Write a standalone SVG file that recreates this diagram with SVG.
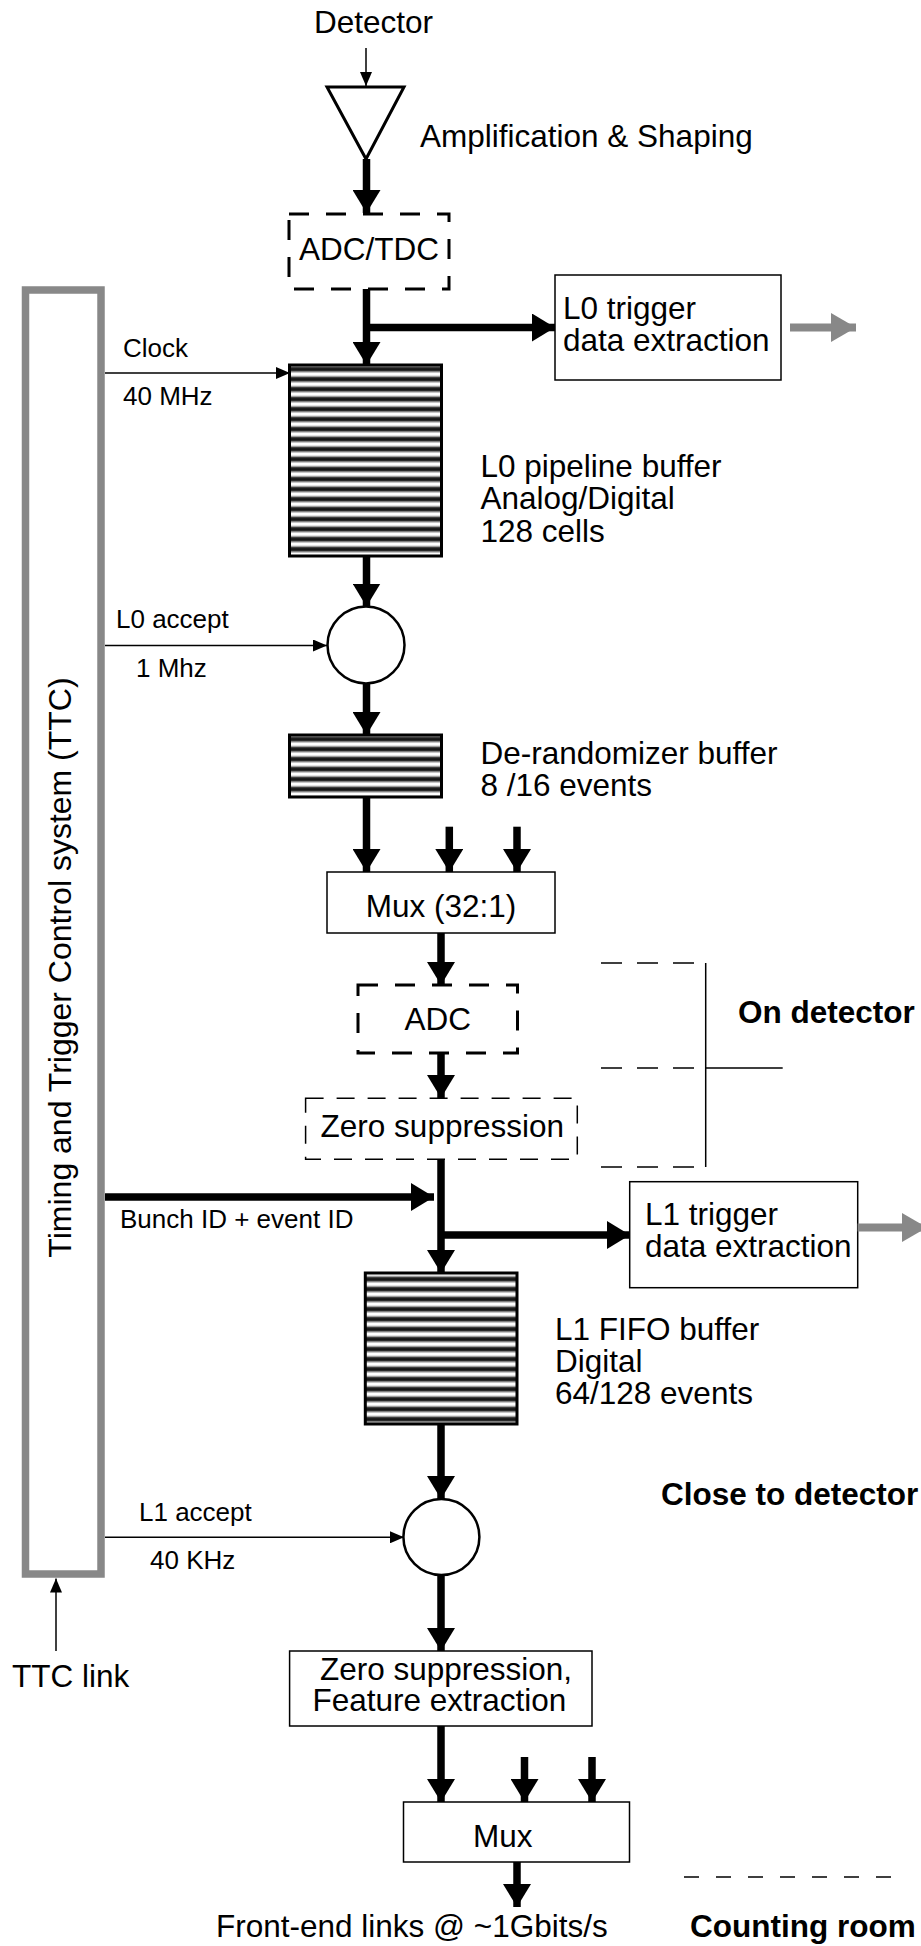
<svg xmlns="http://www.w3.org/2000/svg" width="921" height="1946" viewBox="0 0 921 1946">
<style>
text{font-family:"Liberation Sans",Arial,sans-serif;fill:#000}
.t{font-size:31.5px}
.s{font-size:26px}
.b{font-size:31.5px;font-weight:bold}
.box{fill:#fff;stroke:#000;stroke-width:1.5}
.dbox{fill:none;stroke:#000;stroke-width:3;stroke-dasharray:20 17}
.dbox2{fill:none;stroke:#000;stroke-width:1.5;stroke-dasharray:18 13}
.buf{fill:url(#stripes);stroke:#000;stroke-width:3}
.thick{fill:none;stroke:#000;stroke-width:7.5;marker-end:url(#ah)}
.thin{fill:none;stroke:#000;stroke-width:1.5;marker-end:url(#at)}
.gray{fill:none;stroke:#888;stroke-width:8;marker-end:url(#ag)}
.circ{fill:#fff;stroke:#000;stroke-width:2.5}
.dash{fill:none;stroke:#000;stroke-width:1.5;stroke-dasharray:21 15}
.sol{fill:none;stroke:#000;stroke-width:1.5}
</style>
<defs>
<linearGradient id="sg" x1="0" y1="0" x2="0" y2="1">
<stop offset="0" stop-color="#fff"/>
<stop offset="0.12" stop-color="#bbb"/>
<stop offset="0.28" stop-color="#222"/>
<stop offset="0.52" stop-color="#111"/>
<stop offset="0.68" stop-color="#999"/>
<stop offset="0.84" stop-color="#fff"/>
<stop offset="1" stop-color="#fff"/>
</linearGradient>
<pattern id="stripes" patternUnits="userSpaceOnUse" x="0" y="365" width="10" height="10">
<rect x="0" y="0" width="10" height="10" fill="url(#sg)"/>
</pattern>
<marker id="ah" markerUnits="userSpaceOnUse" viewBox="0 0 23 28" refX="23" refY="14" markerWidth="23" markerHeight="28" orient="auto">
<path d="M0,0 L23,14 L0,28 Z" fill="#000"/>
</marker>
<marker id="at" markerUnits="userSpaceOnUse" viewBox="0 0 14 12" refX="14" refY="6" markerWidth="14" markerHeight="12" orient="auto">
<path d="M0,0 L14,6 L0,12 Z" fill="#000"/>
</marker>
<marker id="ag" markerUnits="userSpaceOnUse" viewBox="0 0 25 29" refX="25" refY="14.5" markerWidth="25" markerHeight="29" orient="auto">
<path d="M0,0 L25,14.5 L0,29 Z" fill="#888"/>
</marker>
</defs>

<g id="ttc">
<rect x="25.5" y="290" width="75.5" height="1284" fill="none" stroke="#888" stroke-width="7.5"/>
<text class="t" font-size="32" transform="translate(71,967.5) rotate(-90)" text-anchor="middle" style="font-size:32px">Timing and Trigger Control system (TTC)</text>
</g>

<g id="detector"><text class="t" x="314" y="33">Detector</text></g>

<g id="amplifier">
<polygon points="327,87 404,87 366,159" fill="#fff" stroke="#000" stroke-width="3" stroke-linejoin="miter"/>
<text class="t" x="420" y="147">Amplification &amp; Shaping</text>
</g>

<g id="adctdc">
<rect class="dbox" x="289" y="214" width="160" height="75"/>
<text class="t" x="299" y="260">ADC/TDC</text>
</g>

<g id="l0trigger">
<rect class="box" x="555" y="275" width="226" height="105"/>
<text class="t" x="563" y="319">L0 trigger</text>
<text class="t" x="563" y="351">data extraction</text>
</g>

<g id="l0pipeline">
<rect class="buf" x="289.5" y="365" width="152" height="191"/>
<text class="t" x="480.5" y="477">L0 pipeline buffer</text>
<text class="t" x="480.5" y="509">Analog/Digital</text>
<text class="t" x="480.5" y="542">128 cells</text>
</g>

<g id="l0accept">
<circle class="circ" cx="366" cy="645" r="38.5"/>
</g>

<g id="derandomizer">
<rect class="buf" x="289.5" y="735" width="152" height="62"/>
<text class="t" x="480.5" y="764">De-randomizer buffer</text>
<text class="t" x="480.5" y="796">8 /16 events</text>
</g>

<g id="mux32">
<rect class="box" x="327" y="872" width="228" height="61"/>
<text class="t" x="441" y="917" text-anchor="middle">Mux (32:1)</text>
</g>

<g id="adc">
<rect class="dbox" x="358" y="985" width="159.5" height="68"/>
<text class="t" x="437.7" y="1030" text-anchor="middle">ADC</text>
</g>

<g id="zerosupp">
<rect class="dbox2" x="305.6" y="1098.3" width="271.7" height="61"/>
<text class="t" x="320.6" y="1137">Zero suppression</text>
</g>

<g id="ondetector">
<path class="dash" d="M601,963 H705.7 M601,1068 H705.7 M601,1167 H705.7"/>
<path class="sol" d="M705.7,963 V1167 M705.7,1068 H782.7"/>
<text class="b" x="738" y="1023">On detector</text>
</g>

<g id="l1trigger">
<rect class="box" x="629.7" y="1181.7" width="228" height="106"/>
<text class="t" x="645" y="1225">L1 trigger</text>
<text class="t" x="645" y="1257">data extraction</text>
</g>

<g id="l1fifo">
<rect class="buf" x="365.3" y="1273" width="151.7" height="151"/>
<text class="t" x="555" y="1340">L1 FIFO buffer</text>
<text class="t" x="555" y="1372">Digital</text>
<text class="t" x="555" y="1404">64/128 events</text>
</g>

<g id="closetodetector"><text class="b" x="661" y="1505">Close to detector</text></g>

<g id="l1accept">
<circle class="circ" cx="441.4" cy="1537" r="38"/>
</g>

<g id="ttclink"><text class="t" x="12" y="1687">TTC link</text></g>

<g id="featextr">
<rect class="box" x="289.6" y="1651" width="302.4" height="75"/>
<text class="t" x="320" y="1680">Zero suppression,</text>
<text class="t" x="312.5" y="1711">Feature extraction</text>
</g>

<g id="mux">
<rect class="box" x="403.5" y="1802" width="226" height="60"/>
<text class="t" x="473" y="1847">Mux</text>
</g>

<g id="frontend"><text class="t" x="216" y="1937">Front-end links @ ~1Gbits/s</text></g>

<g id="countingroom">
<path class="dash" d="M684,1877 H908" style="stroke-dasharray:15 17"/>
<text class="b" x="690" y="1937">Counting room</text>
</g>

<g id="connectors">
<path class="thin" d="M366,48 V86"/>
<path class="thick" d="M366.5,159 V213"/>
<path class="thick" d="M366.5,289 V365"/>
<path class="thick" d="M366.5,327.5 H555"/>
<path class="gray" d="M790,327.5 H856"/>
<path class="thin" d="M105,373 H290"/>
<text class="s" x="123" y="357">Clock</text>
<text class="s" x="123" y="405">40 MHz</text>
<path class="thick" d="M366.5,556 V606.5"/>
<path class="thin" d="M105,645.5 H327"/>
<text class="s" x="116" y="628">L0 accept</text>
<text class="s" x="136" y="677">1 Mhz</text>
<path class="thick" d="M366.5,683.5 V735"/>
<path class="thick" d="M366.5,797 V872"/>
<path class="thick" d="M449.3,826.7 V872"/>
<path class="thick" d="M517,826.7 V872"/>
<path class="thick" d="M441,933 V985"/>
<path class="thick" d="M441,1053 V1098"/>
<path class="thick" d="M105,1197 H434"/>
<text class="s" x="120" y="1228">Bunch ID + event ID</text>
<path class="thick" d="M441,1159 V1273"/>
<path class="thick" d="M441,1235 H630"/>
<path class="gray" d="M857.6,1227.5 H927"/>
<path class="thick" d="M441,1424 V1499"/>
<path class="thin" d="M105,1537.3 H404"/>
<text class="s" x="139" y="1521">L1 accept</text>
<text class="s" x="150" y="1569">40 KHz</text>
<path class="thin" d="M56,1651 V1578.5"/>
<path class="thick" d="M441,1575 V1651"/>
<path class="thick" d="M441,1726 V1802"/>
<path class="thick" d="M524.5,1757 V1802"/>
<path class="thick" d="M592,1757 V1802"/>
<path class="thick" d="M517,1862 V1907"/>
</g>
</svg>
